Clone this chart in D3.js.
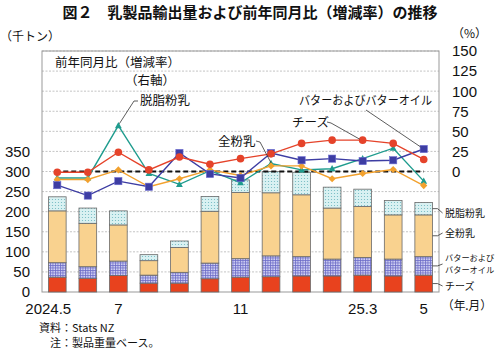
<!DOCTYPE html>
<html><head><meta charset="utf-8">
<script src="https://cdn.jsdelivr.net/npm/d3@7"></script>
<style>
body{margin:0;background:#fff;}
svg{display:block;font-family:"Noto Sans CJK JP","Noto Sans",sans-serif;}
.num{font-family:"Liberation Sans",Arial,sans-serif;}
</style></head>
<body><svg id="c" width="500" height="349"></svg>
<script>
const months = ["2024.5","2024.6","2024.7","2024.8","2024.9","2024.10","2024.11","2024.12","2025.1","2025.2","2025.3","2025.4","2025.5"];
const tickLabels = ["2024.5","","7","","","","11","","","","25.3","","5"];
// export volume (thousand tonnes)
const cheese = [37,34,41,22,22,33,37,38,40,40,42,40,42];
const butter = [36,29,36,20,27,39,46,52,48,42,44,42,46];
const wmp    = [129,108,90,36,62,129,165,157,154,127,127,110,104];
const smp    = [35,38,35,15,16,37,31,53,56,52,43,36,31];
// year-on-year change (%)
const cheeseYoY = [-1,-1,24,2,18,9,16,22,35,39,39,35,15];
const butterYoY = [-17,-30,-12,-19,23,-3,-8,23,14,16,13,14,28];
const wmpYoY    = [-10,-10,2,-19,-9,2,-5,7,7,-9,-2.5,2.5,-17.5];
const smpYoY    = [-8,-8,57,-2.5,-16,1,-14,10,2,3.5,16,29,-12];
const leftTicks = [0,50,100,150,200,250,300,350];
const rightTicks = [0,25,50,75,100,125,150];

const svg = d3.select("#c");
const L=42, R=439, T=51, B=292;

const defs = svg.append("defs");
const pd = defs.append("pattern").attr("id","dots").attr("width",3).attr("height",3).attr("patternUnits","userSpaceOnUse");
pd.append("rect").attr("width",3).attr("height",3).attr("fill","#d9f1f2");
pd.append("circle").attr("cx",1.5).attr("cy",1.5).attr("r",0.6).attr("fill","#6fb8c0");
const pg = defs.append("pattern").attr("id","grid").attr("width",2.5).attr("height",2.5).attr("patternUnits","userSpaceOnUse");
pg.append("rect").attr("width",2.5).attr("height",2.5).attr("fill","#d4d4f4");
pg.append("path").attr("d","M0,0.5H2.5M0.5,0V2.5").attr("stroke","#6c6cc8").attr("stroke-width",0.8);

const x = d3.scaleBand().domain(months).range([L,R]).paddingInner(0.42).paddingOuter(0.21);
const yL = d3.scaleLinear().domain([0,600]).range([B,T]);
const yR = d3.scaleLinear().domain([-150,150]).range([B,T]);
const cx = m => x(m)+x.bandwidth()/2;

// grid
svg.append("g").selectAll("line").data(d3.range(-125,151,25)).join("line")
  .attr("x1",L).attr("x2",R).attr("y1",d=>yR(d)).attr("y2",d=>yR(d))
  .attr("stroke","#b5b5b5").attr("stroke-width",0.8).attr("stroke-dasharray","2,1.5");
// frame
svg.append("rect").attr("x",L).attr("y",T).attr("width",R-L).attr("height",B-T)
  .attr("fill","none").attr("stroke","#999").attr("stroke-width",1);

// stacked bars
const keys = ["cheese","butter","wmp","smp"];
const table = months.map((m,i)=>({m, cheese:cheese[i], butter:butter[i], wmp:wmp[i], smp:smp[i]}));
const stack = d3.stack().keys(keys)(table);
const fills = {cheese:"#e8421e", butter:"url(#grid)", wmp:"#f9d28f", smp:"url(#dots)"};
svg.append("g").selectAll("g").data(stack).join("g")
  .attr("fill",d=>fills[d.key])
  .selectAll("rect").data(d=>d).join("rect")
  .attr("x",d=>x(d.data.m)).attr("width",x.bandwidth())
  .attr("y",d=>yL(d[1])).attr("height",d=>yL(d[0])-yL(d[1]))
  .attr("stroke","#6a6a6a").attr("stroke-width",0.8);

// zero dashed line (right axis)
svg.append("line").attr("x1",cx(months[0])-2).attr("x2",cx(months[12])).attr("y1",yR(0)).attr("y2",yR(0))
  .attr("stroke","#111").attr("stroke-width",1.8).attr("stroke-dasharray","5,3");

// left axis labels
svg.append("g").selectAll("text").data(leftTicks).join("text").attr("class","num")
  .attr("x",30).attr("y",d=>yL(d)).attr("dy","0.36em").attr("text-anchor","end")
  .attr("font-size",15).attr("fill","#111").text(d=>d);
// right axis labels
svg.append("g").selectAll("text").data(rightTicks).join("text").attr("class","num")
  .attr("x",452).attr("y",d=>yR(d)).attr("dy","0.36em").attr("text-anchor","start")
  .attr("font-size",15).attr("fill","#111").text(d=>d);
// x labels
svg.append("g").selectAll("text").data(months).join("text").attr("class","num")
  .attr("x",(d,i)=>cx(d)+(i===0?-9:0)).attr("y",309).attr("dy","0.36em").attr("text-anchor","middle")
  .attr("font-size",15).attr("fill","#111").text((d,i)=>tickLabels[i]);

// lines
const series = [
  {vals:smpYoY, color:"#1f9c8e", shape:"tri"},
  {vals:wmpYoY, color:"#f2a12e", shape:"dia"},
  {vals:butterYoY, color:"#3d3da3", shape:"sq"},
  {vals:cheeseYoY, color:"#e5432a", shape:"circ"}
];
const line = d3.line().x((d,i)=>cx(months[i])).y(d=>yR(d));
series.forEach(s=>{
  const g = svg.append("g");
  g.append("path").attr("d",line(s.vals)).attr("fill","none").attr("stroke",s.color).attr("stroke-width",1.4);
  const pts = g.selectAll("g").data(s.vals).join("g")
    .attr("transform",(d,i)=>`translate(${cx(months[i])},${yR(d)})`);
  if(s.shape==="circ") pts.append("circle").attr("r",3.8).attr("fill",s.color);
  if(s.shape==="sq") pts.append("rect").attr("x",-3.6).attr("y",-3.6).attr("width",7.2).attr("height",7.2).attr("fill",s.color).attr("stroke","#6a6ad0").attr("stroke-width",0.6);
  if(s.shape==="dia") pts.append("path").attr("d","M0,-3.6L3.6,0L0,3.6L-3.6,0Z").attr("fill",s.color);
  if(s.shape==="tri") pts.append("path").attr("d","M0,-3.6L3.4,2.6L-3.4,2.6Z").attr("fill",s.color);
});

// titles/labels
svg.append("text").attr("x",250).attr("y",13).attr("dy","0.36em").attr("text-anchor","middle")
  .attr("font-size",15).attr("font-weight","bold").attr("fill","#111").text("図２　乳製品輸出量および前年同月比（増減率）の推移");
svg.append("text").attr("x",0).attr("y",37).attr("dy","0.36em").attr("font-size",12).attr("fill","#111").text("（千トン）");
svg.append("text").attr("x",452).attr("y",34).attr("dy","0.36em").attr("font-size",12).attr("fill","#111").text("（%）");
svg.append("text").attr("x",442).attr("y",306).attr("dy","0.36em").attr("font-size",12)
  .attr("textLength",50).attr("lengthAdjust","spacingAndGlyphs").attr("fill","#111").text("（年.月）");

const ann = svg.append("g").attr("font-size",12.5).attr("fill","#111");
ann.append("text").attr("x",55).attr("y",62).attr("dy","0.36em").text("前年同月比（増減率）");
ann.append("text").attr("x",125).attr("y",80).attr("dy","0.36em").text("（右軸）");
ann.append("text").attr("x",140).attr("y",100).attr("dy","0.36em").text("脱脂粉乳");
ann.append("text").attr("x",218).attr("y",141).attr("dy","0.36em").text("全粉乳");
ann.append("text").attr("x",292).attr("y",122).attr("dy","0.36em").text("チーズ");
ann.append("text").attr("x",299).attr("y",101).attr("dy","0.36em").attr("font-size",12)
  .attr("textLength",133).attr("lengthAdjust","spacingAndGlyphs").text("バターおよびバターオイル");

const lead = svg.append("g").attr("stroke","#333").attr("stroke-width",0.8).attr("fill","none");
lead.append("path").attr("d",`M138,101 L134,101 L${cx(months[2])+1},${yR(smpYoY[2])-2}`);
lead.append("path").attr("d",`M256,141 L260,142 L${cx(months[7])},${yR(wmpYoY[7])-3}`);
lead.append("path").attr("d",`M327,122 L331,123 L${cx(months[10])-3},${yR(cheeseYoY[10])-1}`);
lead.append("path").attr("d",`M366,110 L${cx(months[12])-3},${yR(butterYoY[12])-2}`);

// right legend
const last = stack.map(s=>s[12]);
const lx = x(months[12])+x.bandwidth();
const legend = [
  {t:["脱脂粉乳"], y:213, k:3, fs:10},
  {t:["全粉乳"], y:233, k:2, fs:10},
  {t:["バターおよび","バターオイル"], y:258, k:1, fs:8.2},
  {t:["チーズ"], y:286, k:0, fs:10}
];
const lg = svg.append("g").attr("fill","#111");
legend.forEach(d=>{
  const v = last[d.k];
  const ym = yL((v[0]+v[1])/2);
  lg.append("path").attr("d",`M${lx},${ym} L${lx+5},${ym} L${lx+10},${d.y+(d.t.length>1?6:0)}`).attr("stroke","#333").attr("stroke-width",0.8).attr("fill","none");
  d.t.forEach((t,j)=>lg.append("text").attr("x",445).attr("y",d.y+j*12.5).attr("dy","0.36em")
    .attr("font-size",d.fs).text(t));
});

svg.append("text").attr("x",39).attr("y",328).attr("dy","0.36em").attr("font-size",11).attr("fill","#111").text("資料：Stats NZ");
svg.append("text").attr("x",50).attr("y",343).attr("dy","0.36em").attr("font-size",11).attr("fill","#111").text("注：製品重量ベース。");
</script></body></html>
